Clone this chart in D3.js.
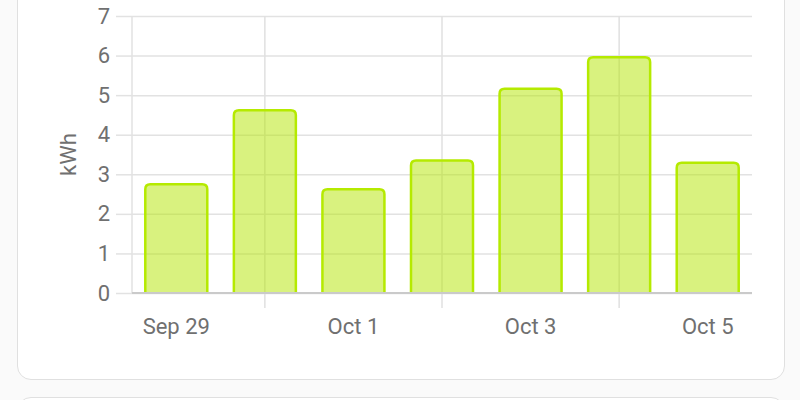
<!DOCTYPE html>
<html>
<head>
<meta charset="utf-8">
<script src="https://cdn.jsdelivr.net/npm/d3@7"></script>
<style>
  body { margin: 0; background: #fafafa; font-family: Roboto, sans-serif; }
  .card { position: absolute; left: 17px; top: -20px; width: 768px; height: 400px;
    background: #fff; border: 1px solid #e0e0e0; border-radius: 14px; box-sizing: border-box; }
  .card2 { position: absolute; left: 17px; top: 397px; width: 768px; height: 60px;
    background: #fff; border: 1px solid #e0e0e0; border-radius: 14px; box-sizing: border-box; }
  svg { position: absolute; left: 0; top: 0; }
  .tick text { fill: #707070; font-size: 22px; font-family: Roboto, sans-serif; }
</style>
</head>
<body>
<div class="card"></div>
<div class="card2"></div>
<div id="chart"></div>
<script>
const days = ['Sep 29', 'Sep 30', 'Oct 1', 'Oct 2', 'Oct 3', 'Oct 4', 'Oct 5'];
const energy = [2.75, 4.62, 2.62, 3.35, 5.16, 5.96, 3.29];
const yTicks = [0, 1, 2, 3, 4, 5, 6, 7];
const unit = 'kWh';

const width = 800;
const height = 400;
const marginTop = 16;
const marginRight = 48;
const marginBottom = 107;
const marginLeft = 132;

const svg = d3.select('#chart')
  .append('svg')
  .attr('width', width)
  .attr('height', height);

const xScale = d3.scaleBand()
  .domain(days)
  .range([marginLeft, width - marginRight])
  .paddingInner(0.3)
  .paddingOuter(0.15);

const yScale = d3.scaleLinear()
  .domain([0, 7])
  .range([height - marginBottom, marginTop]);

const center = (d) => xScale(d) + xScale.bandwidth() / 2;

// horizontal grid + y labels
svg.append('g')
  .attr('transform', `translate(${marginLeft},0)`)
  .call(d3.axisLeft(yScale).tickValues(yTicks).tickSize(16).tickPadding(6).tickFormat(d3.format('d')))
  .call((g) => g.attr('font-family', null).attr('font-size', null))
  .call((g) => g.select('.domain').remove())
  .call((g) => g.selectAll('.tick line').clone()
    .attr('x1', 0)
    .attr('x2', width - marginRight - marginLeft))
  .call((g) => g.selectAll('.tick line').attr('stroke', '#e2e2e2').attr('stroke-width', 1.5));

// vertical grid lines at the unlabeled days
svg.append('g')
  .selectAll('line')
  .data(days.filter((d, i) => i % 2 === 1))
  .join('line')
  .attr('x1', center)
  .attr('x2', center)
  .attr('y1', marginTop)
  .attr('y2', height - marginBottom + 15)
  .attr('stroke', '#e0e0e0')
  .attr('stroke-width', 1.5);

// left edge line
svg.append('line')
  .attr('x1', marginLeft)
  .attr('x2', marginLeft)
  .attr('y1', marginTop)
  .attr('y2', height - marginBottom)
  .attr('stroke', '#e2e2e2')
  .attr('stroke-width', 1.5);

// x labels
svg.append('g')
  .attr('transform', `translate(0,${height - marginBottom})`)
  .call(d3.axisBottom(xScale).tickValues(days.filter((d, i) => i % 2 === 0)).tickSize(0).tickPadding(25))
  .call((g) => g.attr('font-family', null).attr('font-size', null))
  .call((g) => g.select('.domain').remove());

// rounded-top bars
const r = 5;
function barPath(d, i) {
  const x0 = xScale(d);
  const x1 = x0 + xScale.bandwidth();
  const y0 = yScale(0);
  const y1 = yScale(energy[i]);
  return `M${x0},${y0}V${y1 + r}Q${x0},${y1} ${x0 + r},${y1}H${x1 - r}Q${x1},${y1} ${x1},${y1 + r}V${y0}`;
}

svg.append('g')
  .selectAll('path')
  .data(days)
  .join('path')
  .attr('d', barPath)
  .attr('fill', 'rgba(180, 230, 0, 0.5)')
  .attr('stroke', '#b5ea00')
  .attr('stroke-width', 2.5);

// zero line
svg.append('line')
  .attr('x1', marginLeft)
  .attr('x2', width - marginRight)
  .attr('y1', yScale(0))
  .attr('y2', yScale(0))
  .attr('stroke', '#cacaca')
  .attr('stroke-width', 2);

// y axis title
svg.append('text')
  .attr('transform', `translate(76,${(marginTop + height - marginBottom) / 2}) rotate(-90)`)
  .attr('text-anchor', 'middle')
  .attr('fill', '#707070')
  .attr('font-family', 'Roboto, sans-serif')
  .attr('font-size', 22)
  .text(unit);
</script>
</body>
</html>
